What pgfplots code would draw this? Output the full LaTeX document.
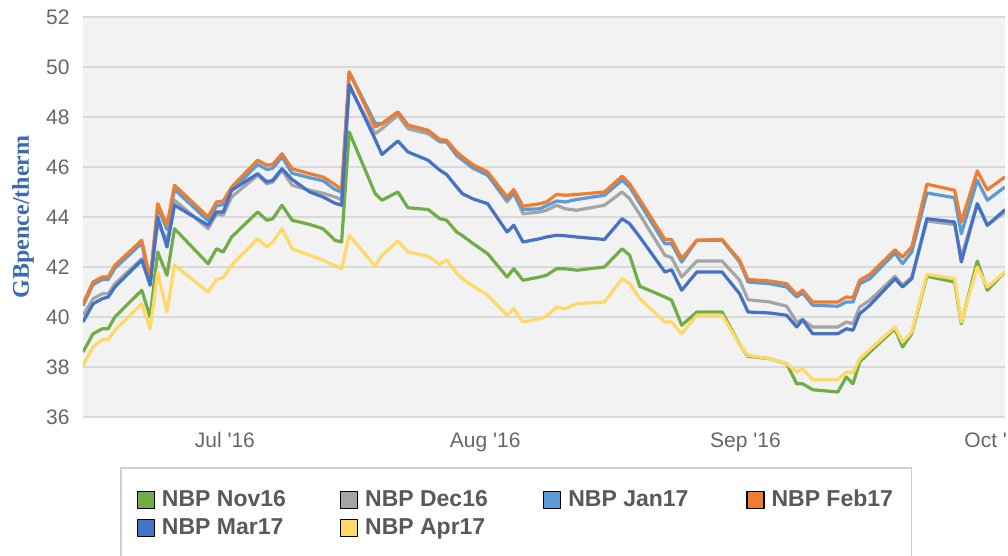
\documentclass[border=0pt]{standalone}
\usepackage{fontspec}
\setmainfont{Liberation Sans}
\newfontfamily\labelfont{Liberation Serif}
\usepackage{pgfplots}
\usepackage{pgfplotstable}
\pgfplotsset{compat=1.18}

\definecolor{cNov}{HTML}{70AD47}
\definecolor{cDec}{HTML}{A5A5A5}
\definecolor{cJan}{HTML}{5B9BD5}
\definecolor{cFeb}{HTML}{ED7D31}
\definecolor{cMar}{HTML}{4472C4}
\definecolor{cApr}{HTML}{FFD966}
\definecolor{bggray}{HTML}{F2F2F2}
\definecolor{gridgray}{HTML}{D9D9D9}
\definecolor{tickgray}{HTML}{666666}
\definecolor{legtext}{HTML}{595959}
\definecolor{legborder}{HTML}{D0D0D0}
\definecolor{ylab}{HTML}{3A6BB0}

% x = days from 1 Jul 2016, prices in GBpence/therm
\pgfplotstableread{
x     nov   dec   jan   feb   mar   apr
-16.9 38.60 40.07 40.45 40.53 39.80 38.07
-15.7 39.33 40.73 41.30 41.40 40.53 38.80
-14.6 39.53 40.93 41.50 41.60 40.73 39.10
-13.9 39.53 40.93 41.50 41.60 40.80 39.10
-13.1 40.00 41.33 41.95 42.07 41.20 39.47
-9.9  41.07 42.33 42.95 43.07 42.27 40.53
-8.9  40.00 41.53 41.30 41.50 41.27 39.53
-8.0  42.60 43.73 44.40 44.53 44.00 41.80
-6.9  41.67 43.07 43.50 43.67 42.80 40.20
-6.0  43.53 44.67 45.10 45.27 44.47 42.07
-2.0  42.13 43.53 43.85 44.00 43.67 41.00
-1.0  42.73 44.13 44.45 44.60 44.20 41.50
-0.2  42.60 44.07 44.50 44.64 44.20 41.57
0.8   43.20 44.80 45.05 45.20 45.07 42.07
3.9   44.20 45.67 46.10 46.27 45.73 43.13
5.0   43.87 45.33 45.90 46.07 45.40 42.80
5.7   43.93 45.40 45.95 46.10 45.47 43.00
6.8   44.47 45.87 46.40 46.53 45.93 43.53
8.0   43.87 45.27 45.75 45.93 45.50 42.73
10.1  43.70 45.07 45.57 45.73 45.00 42.47
11.7  43.53 44.95 45.45 45.60 44.80 42.27
13.1  43.07 44.80 45.10 45.30 44.55 42.05
13.9  43.00 44.70 45.00 45.10 44.47 41.93
14.8  47.40 49.20 49.80 49.80 49.30 43.27
17.9  44.93 47.33 47.75 47.60 47.10 42.03
18.7  44.67 47.53 47.73 47.73 46.50 42.47
20.6  45.00 48.07 48.20 48.20 47.04 43.04
21.8  44.37 47.53 47.67 47.67 46.60 42.60
24.2  44.30 47.33 47.45 47.47 46.27 42.43
25.6  43.93 47.00 47.05 47.10 45.87 42.10
26.4  43.87 47.00 47.00 47.07 45.70 42.29
27.6  43.40 46.45 46.50 46.60 45.20 41.75
28.3  43.25 46.27 46.30 46.40 44.93 41.53
29.5  42.95 45.95 46.00 46.10 44.73 41.25
31.3  42.53 45.67 45.67 45.80 44.53 40.87
33.6  41.60 44.60 44.70 44.80 43.40 40.07
34.4  41.93 44.93 45.00 45.10 43.67 40.33
35.5  41.47 44.13 44.30 44.43 43.00 39.80
37.5  41.60 44.20 44.33 44.53 43.13 39.93
38.3  41.67 44.27 44.45 44.60 43.20 40.03
39.5  41.93 44.47 44.64 44.90 43.27 40.40
40.5  41.93 44.33 44.60 44.87 43.25 40.33
41.9  41.87 44.27 44.70 44.90 43.20 40.53
45.2  42.00 44.47 44.87 45.00 43.10 40.60
47.3  42.73 45.00 45.47 45.63 43.93 41.53
48.2  42.47 44.73 45.20 45.33 43.73 41.33
49.4  41.23 44.10 44.55 44.70 43.20 40.73
52.4  40.80 42.47 42.93 43.10 41.80 39.80
53.2  40.67 42.37 42.93 43.10 41.89 39.80
54.4  39.67 41.60 42.20 42.33 41.07 39.33
56.2  40.20 42.24 43.07 43.07 41.80 40.07
59.2  40.20 42.24 43.07 43.10 41.80 40.07
61.3  38.90 41.47 42.20 42.27 40.93 38.90
62.3  38.43 40.69 41.40 41.50 40.20 38.47
64.9  38.33 40.60 41.33 41.44 40.16 38.33
66.9  38.13 40.43 41.20 41.33 40.07 38.13
68.1  37.33 39.80 40.80 40.90 39.60 37.80
68.8  37.33 39.89 40.96 41.07 39.89 37.93
70.0  37.09 39.60 40.47 40.60 39.33 37.49
73.0  37.00 39.60 40.43 40.60 39.33 37.49
74.0  37.60 39.80 40.60 40.80 39.53 37.80
74.8  37.33 39.73 40.60 40.77 39.47 37.76
75.6  38.20 40.40 41.33 41.47 40.13 38.33
76.8  38.60 40.67 41.53 41.70 40.47 38.70
79.8  39.53 41.63 42.56 42.69 41.53 39.60
80.7  38.80 41.27 42.13 42.40 41.20 39.00
81.8  39.33 41.60 42.60 42.80 41.53 39.40
83.6  41.63 43.84 44.96 45.31 43.93 41.71
86.9  41.40 43.70 44.77 45.07 43.80 41.53
87.7  39.73 42.40 43.33 43.80 42.20 39.80
89.6  42.24 44.53 45.47 45.84 44.53 42.00
90.8  41.07 43.67 44.67 45.09 43.67 41.20
92.9  41.80 44.20 45.20 45.60 44.29 41.80
}\nbp

% square legend swatch
\pgfplotsset{
  swatch/.style={legend image code/.code={
    \draw[draw=black, line width=0.6pt, fill=#1] (0pt,-4.25pt) rectangle (8.5pt,4.25pt);}},
}
\newcommand{\leg}[1]{\makebox[62pt][l]{#1}}

\begin{document}
\begin{tikzpicture}
\begin{axis}[
    scale only axis, width=461pt, height=200pt,
    at={(41.5pt,69.5pt)}, anchor=south west,
    xmin=-16.9, xmax=92.9, ymin=36, ymax=52,
    ytick={36,38,...,52},
    xtick={0,31,62,92},
    xticklabels={Jul \textquotesingle16, Aug \textquotesingle16, Sep \textquotesingle16, Oct \textquotesingle16},
    axis background/.style={fill=bggray},
    axis line style={draw=none},
    major tick length=0pt,
    ymajorgrids, grid style={draw=gridgray, line width=0.9pt},
    tick label style={font=\fontsize{10.5}{12}\selectfont, text=tickgray},
    /pgf/number format/assume math mode=true,
    yticklabel style={inner sep=0pt, xshift=-6.5pt},
    xticklabel style={inner sep=0pt, yshift=-7.5pt},
    ylabel={GBpence/therm},
    ylabel style={at={(axis description cs:-0.065,0.5)}, anchor=center,
      font=\labelfont\bfseries\fontsize{12}{14}\selectfont, text=ylab},
    legend columns=4,
    legend cell align=left,
    legend style={at={(0.0401,-0.125)}, anchor=north west,
      draw=legborder, line width=0.8pt, fill=white,
      font=\bfseries\fontsize{11.5}{13}\selectfont, text=legtext,
      inner xsep=8pt, inner ysep=10.3pt,
      nodes={inner sep=0pt, text height=9pt, text depth=3pt},
      column sep=3.5pt, row sep=2pt,
      /tikz/every even column/.append style={column sep=27pt}},
    every axis plot/.append style={line width=1.6pt, line join=round},
]
\addplot[cNov, swatch=cNov] table[x=x, y=nov] {\nbp};
\addlegendentry{\leg{NBP Nov16}}
\addplot[cDec, swatch=cDec] table[x=x, y=dec] {\nbp};
\addlegendentry{\leg{NBP Dec16}}
\addplot[cJan, swatch=cJan] table[x=x, y=jan] {\nbp};
\addlegendentry{\leg{NBP Jan17}}
\addplot[cFeb, swatch=cFeb] table[x=x, y=feb] {\nbp};
\addlegendentry{\leg{NBP Feb17}}
\addplot[cMar, swatch=cMar] table[x=x, y=mar] {\nbp};
\addlegendentry{\leg{NBP Mar17}}
\addplot[cApr, swatch=cApr] table[x=x, y=apr] {\nbp};
\addlegendentry{\leg{NBP Apr17}}
\end{axis}
\pgfresetboundingbox
\useasboundingbox (0,0) rectangle (504pt,278pt);
\end{tikzpicture}
\end{document}
